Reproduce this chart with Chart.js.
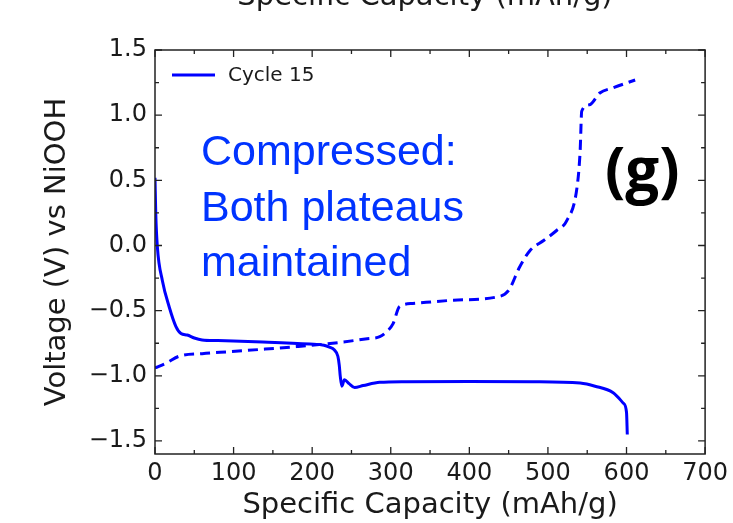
<!DOCTYPE html>
<html>
<head>
<meta charset="utf-8">
<script src="https://cdn.jsdelivr.net/npm/chart.js@4.4.0/dist/chart.umd.min.js"></script>
<style>
  body { margin: 0; background: #fff; }
  canvas { display: block; }
</style>
</head>
<body>
<canvas id="myChart" width="733" height="523"></canvas>
<script>
// discharge curve (solid line, "Cycle 15")
const capDischarge = [0, 1, 3, 9.4, 18, 26.5, 33, 41, 50, 60, 80, 137, 197, 215, 222, 228, 232.7, 234.5, 235.7, 237.8, 241, 247, 254, 265, 286, 320, 400, 480, 541, 560, 583, 596, 600, 601];
const voltDischarge = [0.52, 0.24, -0.01, -0.27, -0.47, -0.62, -0.675, -0.687, -0.71, -0.725, -0.73, -0.74, -0.756, -0.765, -0.78, -0.8, -0.85, -0.92, -1.0, -1.08, -1.03, -1.06, -1.09, -1.075, -1.05, -1.045, -1.043, -1.045, -1.056, -1.08, -1.13, -1.21, -1.28, -1.45];

// charge curve (dashed line)
const capCharge = [0, 15, 30.7, 60, 94.5, 140, 180, 213.5, 240, 270, 286, 295, 303, 311, 328, 380, 435, 450, 464, 477, 495, 511, 524, 537, 541, 543, 553, 566, 583, 611];
const voltCharge = [-0.94, -0.9, -0.85, -0.83, -0.815, -0.795, -0.776, -0.758, -0.74, -0.715, -0.7, -0.66, -0.6, -0.47, -0.445, -0.42, -0.395, -0.345, -0.165, -0.04, 0.04, 0.115, 0.19, 0.445, 0.725, 1.03, 1.08, 1.17, 1.21, 1.27];

const xTicks = [0, 100, 200, 300, 400, 500, 600, 700];
const xMinor = [50, 150, 250, 350, 450, 550, 650];
const yTicks = [-1.5, -1.0, -0.5, 0.0, 0.5, 1.0, 1.5];
const yMinor = [-1.25, -0.75, -0.25, 0.25, 0.75, 1.25];

const noteLines = ["Compressed:", "Both plateaus", "maintained"];

Chart.defaults.font.family = '"DejaVu Sans"';
Chart.defaults.color = "#1a1a1a";

function toPoints(xs, ys) {
  return xs.map((x, i) => ({ x: x, y: ys[i] }));
}

// frame, inward ticks, legend and text notes
const extras = {
  id: "extras",
  afterDraw(chart) {
    const ctx = chart.ctx;
    const a = chart.chartArea;
    const sx = chart.scales.x;
    const sy = chart.scales.y;
    ctx.save();
    ctx.strokeStyle = "#222";
    ctx.lineWidth = 1.5;
    ctx.strokeRect(a.left, a.top, a.right - a.left, a.bottom - a.top);

    ctx.lineWidth = 1.3;
    ctx.beginPath();
    xTicks.concat(xMinor).forEach(v => {
      const len = xTicks.includes(v) ? 7 : 4;
      const p = sx.getPixelForValue(v);
      ctx.moveTo(p, a.bottom); ctx.lineTo(p, a.bottom - len);
      ctx.moveTo(p, a.top); ctx.lineTo(p, a.top + len);
    });
    yTicks.concat(yMinor).forEach(v => {
      const len = yTicks.includes(v) ? 7 : 4;
      const p = sy.getPixelForValue(v);
      ctx.moveTo(a.left, p); ctx.lineTo(a.left + len, p);
      ctx.moveTo(a.right, p); ctx.lineTo(a.right - len, p);
    });
    ctx.stroke();

    // legend
    const ds = chart.data.datasets[0];
    ctx.strokeStyle = ds.borderColor;
    ctx.lineWidth = 3;
    ctx.beginPath();
    ctx.moveTo(172, 75); ctx.lineTo(215, 75);
    ctx.stroke();
    ctx.fillStyle = "#1a1a1a";
    ctx.font = '20px "DejaVu Sans"';
    ctx.textBaseline = "middle";
    ctx.fillText(ds.label, 228, 76);

    // note
    ctx.textBaseline = "alphabetic";
    ctx.fillStyle = "#0033ff";
    ctx.font = '43px "Liberation Sans"';
    noteLines.forEach((t, i) => ctx.fillText(t, 201, 165 + i * 55.5));

    // panel letter
    ctx.fillStyle = "#000";
    ctx.font = 'bold 60px "Open Sans"';
    ctx.fillText("(g)", 605, 191);

    // label of the panel above, cut by the top edge
    ctx.fillStyle = "#1a1a1a";
    ctx.font = '29px "DejaVu Sans"';
    ctx.textAlign = "center";
    ctx.fillText("Specific Capacity (mAh/g)", 425, 5);
    ctx.restore();
  }
};

new Chart("myChart", {
  type: "line",
  data: {
    datasets: [
      {
        label: "Cycle 15",
        data: toPoints(capDischarge, voltDischarge),
        borderColor: "#0000ff",
        borderWidth: 3,
        pointRadius: 0,
        tension: 0,
        cubicInterpolationMode: "monotone",
      },
      {
        label: "",
        data: toPoints(capCharge, voltCharge),
        borderColor: "#0000ff",
        borderWidth: 3,
        borderDash: [10, 6],
        pointRadius: 0,
        cubicInterpolationMode: "monotone",
      },
    ],
  },
  options: {
    responsive: false,
    animation: false,
    layout: { padding: { left: 0, right: 25, top: 50, bottom: 0 } },
    plugins: {
      legend: { display: false },
      tooltip: { enabled: false },
    },
    scales: {
      x: {
        type: "linear",
        min: 0,
        max: 700,
        grid: { display: false, drawTicks: false },
        border: { display: false },
        afterBuildTicks: s => { s.ticks = xTicks.map(v => ({ value: v })); },
        afterFit: s => { s.height = 69; },
        ticks: { font: { size: 24 }, padding: 5, maxRotation: 0 },
        title: {
          display: true,
          text: "Specific Capacity (mAh/g)",
          font: { size: 29 },
          padding: { top: 0, bottom: 0 },
        },
      },
      y: {
        type: "linear",
        min: -1.6,
        max: 1.5,
        grid: { display: false, drawTicks: false },
        border: { display: false },
        afterBuildTicks: s => { s.ticks = yTicks.map(v => ({ value: v })); },
        afterFit: s => { s.width = 155; },
        ticks: {
          font: { size: 24 },
          padding: 8,
          callback: v => v.toFixed(1).replace("-", "\u2212"),
        },
        title: {
          display: true,
          text: "Voltage (V) vs NiOOH",
          font: { size: 29 },
          padding: { top: 40, bottom: 0 },
        },
      },
    },
  },
  plugins: [extras],
});
</script>
</body>
</html>
